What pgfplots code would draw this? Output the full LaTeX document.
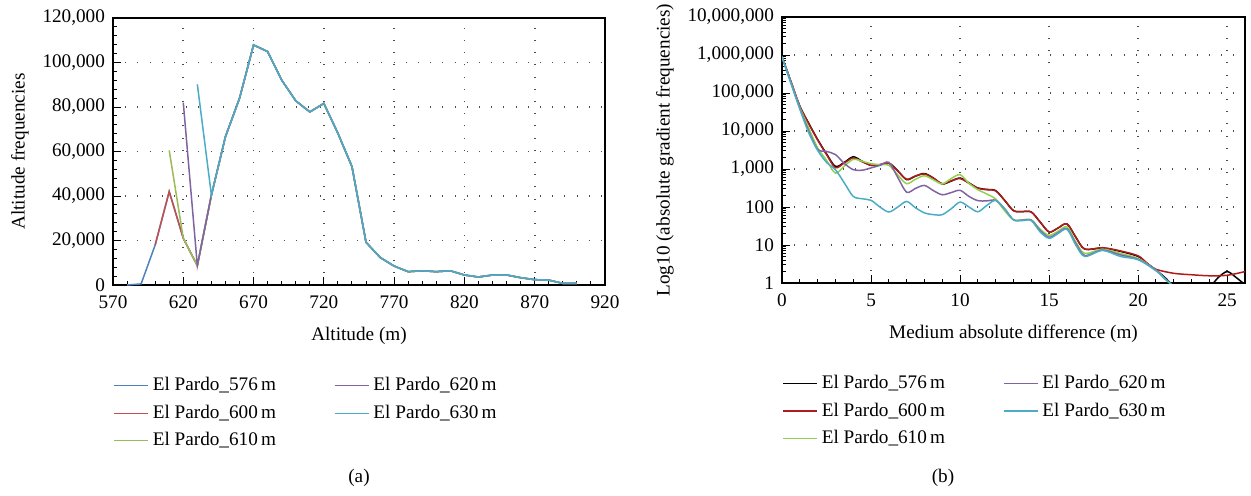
\documentclass[border=0pt]{standalone}
\usepackage{fontspec}
\setmainfont{Liberation Serif}
\usepackage{pgfplots}
\pgfplotsset{compat=1.18}

\definecolor{cblue}{HTML}{4F81BD}
\definecolor{cred}{HTML}{C0504D}
\definecolor{cgreen}{HTML}{9BBB59}
\definecolor{cpurple}{HTML}{8064A2}
\definecolor{ccyan}{HTML}{4BACC6}
\definecolor{dred}{HTML}{B01C1C}
\definecolor{lgreen}{HTML}{92D050}

\pgfplotsset{
  common/.style={
    scale only axis,
    anchor=south west,
    font=\fontsize{9.6}{11}\selectfont,
    axis line style={line width=0.7pt},
    tick style={black, line width=0.5pt},
    major tick length=4pt,
    minor tick length=2pt,
    tick align=inside,
    xtick pos=bottom, ytick pos=left,
    scaled ticks=false,
    grid=major,
    major grid style={black!70, line width=0.8pt, dash pattern=on 0.5pt off 5.6pt},
    xticklabel style={yshift=-2pt},
    yticklabel style={xshift=-0.5pt},
    xlabel style={yshift=-2pt},
    legend cell align=left,
    legend columns=2,
    legend style={draw=none, fill=none, inner sep=0pt, anchor=north west,
      font=\fontsize{9.6}{11}\selectfont,
      row sep=1.6pt,
      /tikz/every even column/.append style={column sep=27pt}},
    every axis plot/.append style={line width=0.75pt},
  }
}

\begin{document}
\begin{tikzpicture}
\path[use as bounding box] (0,0) rectangle (625.5pt,-247.5pt);

% (a) altitude histogram
\begin{axis}[common,
  at={(56.5pt,-142.5pt)}, width=246pt, height=133.5pt,
  xmin=570, xmax=920, ymin=0, ymax=120000,
  xtick={570,620,670,720,770,820,870,920}, minor x tick num=4,
  xticklabels={570,620,670,720,770,820,870,920},
  ytick={0,20000,40000,60000,80000,100000,120000}, minor y tick num=4,
  yticklabels={0,{20,000},{40,000},{60,000},{80,000},{100,000},{120,000}},
  xlabel={Altitude (m)}, ylabel={Altitude frequencies},
  legend style={at={(0,-0.33)}},
]
\addlegendimage{cblue, line width=0.65pt}\addlegendentry{El Pardo\_576\,m}
\addlegendimage{cpurple, line width=0.65pt}\addlegendentry{El Pardo\_620\,m}
\addlegendimage{cred, line width=0.65pt}\addlegendentry{El Pardo\_600\,m}
\addlegendimage{ccyan, line width=0.65pt}\addlegendentry{El Pardo\_630\,m}
\addlegendimage{cgreen, line width=0.65pt}\addlegendentry{El Pardo\_610\,m}

\addplot[cblue, forget plot] coordinates {
 (580,0) (590,500) (600,18000) (610,42000) (620,21000) (630,8700) (640,40400)
 (650,66700) (660,83900) (670,107900) (680,104900) (690,92100) (700,82800)
 (710,77800) (720,81600) (730,68200) (740,53200) (750,19200) (760,12400)
 (770,8500) (780,6000) (790,6400) (800,6000) (810,6400) (820,4500) (830,3600)
 (840,4500) (850,4500) (860,3300) (870,2400) (880,2200) (890,750) (900,750)};
\addplot[cred, forget plot] coordinates {
 (600,18000) (610,42000) (620,21000) (630,8700) (640,40400)
 (650,66700) (660,83900) (670,107900) (680,104900) (690,92100) (700,82800)
 (710,77800) (720,81600) (730,68200) (740,53200) (750,19200) (760,12400)
 (770,8500) (780,6000) (790,6400) (800,6000) (810,6400) (820,4500) (830,3600)
 (840,4500) (850,4500) (860,3300) (870,2400) (880,2200) (890,750) (900,750)};
\addplot[cgreen, forget plot] coordinates {
 (610,60500) (620,21000) (630,8700) (640,40400)
 (650,66700) (660,83900) (670,107900) (680,104900) (690,92100) (700,82800)
 (710,77800) (720,81600) (730,68200) (740,53200) (750,19200) (760,12400)
 (770,8500) (780,6000) (790,6400) (800,6000) (810,6400) (820,4500) (830,3600)
 (840,4500) (850,4500) (860,3300) (870,2400) (880,2200) (890,750) (900,750)};
\addplot[cpurple, forget plot] coordinates {
 (620,82000) (630,8700) (640,40400)
 (650,66700) (660,83900) (670,107900) (680,104900) (690,92100) (700,82800)
 (710,77800) (720,81600) (730,68200) (740,53200) (750,19200) (760,12400)
 (770,8500) (780,6000) (790,6400) (800,6000) (810,6400) (820,4500) (830,3600)
 (840,4500) (850,4500) (860,3300) (870,2400) (880,2200) (890,750) (900,750)};
\addplot[ccyan, forget plot] coordinates {
 (630,90200) (640,40400)
 (650,66700) (660,83900) (670,107900) (680,104900) (690,92100) (700,82800)
 (710,77800) (720,81600) (730,68200) (740,53200) (750,19200) (760,12400)
 (770,8500) (780,6000) (790,6400) (800,6000) (810,6400) (820,4500) (830,3600)
 (840,4500) (850,4500) (860,3300) (870,2400) (880,2200) (890,750) (900,750)};
\end{axis}

% (b) gradient frequencies, log scale
\begin{axis}[common,
  at={(391pt,-141.5pt)}, width=231.5pt, height=133pt,
  ymode=log, xmin=0, xmax=26, ymin=1, ymax=10000000,
  xtick={0,5,10,15,20,25}, minor x tick num=4,
  xticklabels={0,5,10,15,20,25},
  ytick={1,10,100,1000,10000,100000,1000000,10000000},
  yticklabels={1,10,100,{1,000},{10,000},{100,000},{1,000,000},{10,000,000}},
  xlabel={Medium absolute difference (m)},
  ylabel={Log10 (absolute gradient frequencies)},
  legend style={at={(0,-0.33)}},
]
\addlegendimage{black, line width=0.65pt}\addlegendentry{El Pardo\_576\,m}
\addlegendimage{cpurple, line width=0.65pt}\addlegendentry{El Pardo\_620\,m}
\addlegendimage{dred, line width=0.65pt}\addlegendentry{El Pardo\_600\,m}
\addlegendimage{ccyan, line width=0.65pt}\addlegendentry{El Pardo\_630\,m}
\addlegendimage{lgreen, line width=0.65pt}\addlegendentry{El Pardo\_610\,m}

\addplot[black, smooth, forget plot] coordinates {
 (0,900000) (0.5,200000) (1,45000) (1.5,16000) (2,6000) (2.5,2500) (3,1170)
 (3.5,1500) (4,2100) (4.5,1600) (5,1250) (5.5,1300) (6,1440) (6.5,900)
 (7,525) (7.5,650) (8,760) (8.5,580) (9,405) (9.5,480) (10,580) (10.5,430)
 (11,316) (11.5,290) (12,270) (12.5,150) (13,80) (13.5,76) (14,74) (14.5,40)
 (15,22) (15.5,28) (16,36) (16.5,16) (17,7.8) (18,8.3) (19,6.8) (20,5)
 (20.5,3.3) (21,2.2) (21.5,1.4) (22,0.85) (23,0.5) (24,0.8) (24.5,1.4)
 (25,2.0) (25.5,1.4) (26,0.9)};
\addplot[dred, smooth, forget plot] coordinates {
 (0,900000) (0.5,200000) (1,45000) (1.5,15500) (2,5800) (2.5,2400) (3,1080)
 (3.5,1450) (4,1950) (4.5,1550) (5,1250) (5.5,1300) (6,1420) (6.5,880)
 (7,540) (7.5,660) (8,740) (8.5,570) (9,410) (9.5,490) (10,560) (10.5,420)
 (11,310) (11.5,285) (12,265) (12.5,150) (13,80) (13.5,76) (14,74) (14.5,40)
 (15,22) (15.5,28) (16,36) (16.5,16) (17,7.8) (18,8.5) (19,7) (20,5.2)
 (20.5,3.3) (21,2.3) (22,1.8) (23,1.65) (24,1.55) (25,1.6) (26,2.0)};
\addplot[lgreen, smooth, forget plot] coordinates {
 (0,900000) (0.5,190000) (1,42000) (1.5,12000) (2,3600) (2.5,1700) (3,780)
 (3.5,1200) (4,1800) (4.5,1600) (5,1380) (5.5,1300) (6,1250) (6.5,700)
 (7,410) (7.5,540) (8,665) (8.5,520) (9,405) (9.5,560) (10,710) (10.5,420)
 (11,285) (11.5,220) (12,162) (12.5,80) (13,46) (13.5,46) (14,46) (14.5,26)
 (15,18) (15.5,23) (16,30) (16.5,12) (17,6) (18,7.8) (19,6) (20,4.4)
 (21,2.2) (21.5,1.3) (22,0.8)};
\addplot[cpurple, smooth, forget plot] coordinates {
 (0,900000) (0.5,190000) (1,40000) (1.5,10000) (2,3300) (2.5,2900) (3,2400)
 (3.5,1400) (4,960) (4.5,930) (5,1070) (5.5,1250) (6,1500) (6.5,600)
 (7,245) (7.5,310) (8,370) (8.5,270) (9,210) (9.5,240) (10,275) (10.5,190)
 (11,147) (11.5,145) (12,150) (12.5,90) (13,46) (13.5,45) (14,45) (14.5,24)
 (15,16) (15.5,21) (16,27) (16.5,11) (17,5.3) (18,7.4) (19,5.5) (20,4.2)
 (21,2.2) (21.5,1.3) (22,0.8)};
\addplot[ccyan, smooth, forget plot] coordinates {
 (0,900000) (0.5,180000) (1,38000) (1.5,9000) (2,3100) (2.5,1500) (3,960)
 (3.5,430) (4,190) (4.5,165) (5,150) (5.5,100) (6,74) (6.5,100)
 (7,140) (7.5,95) (8,70) (8.5,63) (9,63) (9.5,90) (10,135) (10.5,100)
 (11,75) (11.5,110) (12,150) (12.5,90) (13,46) (13.5,44) (14,44) (14.5,22)
 (15,15) (15.5,20) (16,26) (16.5,10) (17,5) (18,7.2) (19,5) (20,4.1)
 (21,2.1) (21.5,1.3) (22,0.8)};
\end{axis}

\node[font=\fontsize{9.6}{11}\selectfont] at (179.5pt,-239pt) {(a)};
\node[font=\fontsize{9.6}{11}\selectfont] at (471.5pt,-239pt) {(b)};
\end{tikzpicture}
\end{document}
